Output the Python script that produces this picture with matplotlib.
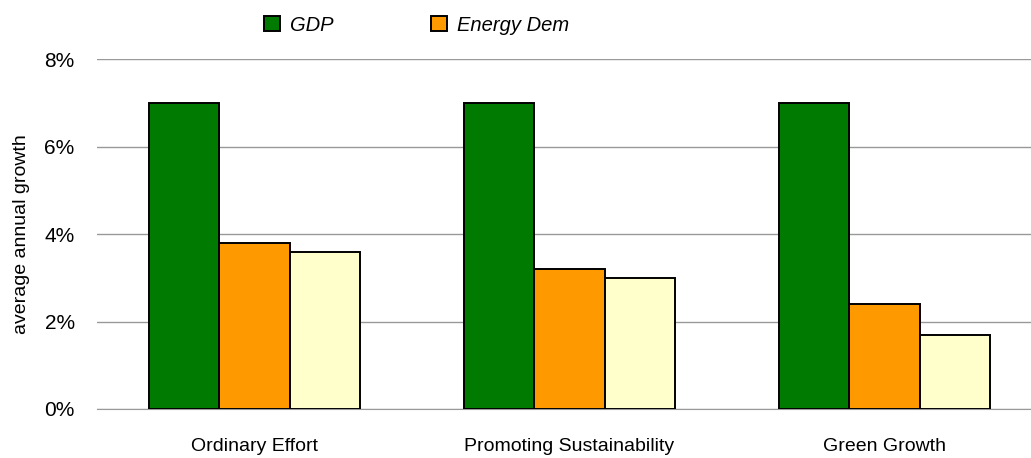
import numpy as np
import matplotlib.pyplot as plt
from matplotlib.ticker import PercentFormatter

plt.rcParams['font.family'] = ['Liberation Sans Narrow', 'Liberation Sans', 'DejaVu Sans']

scenarios = ['Ordinary Effort', 'Promoting Sustainability', 'Green Growth']
gdp = [7.0, 7.0, 7.0]
energy_dem = [3.8, 3.2, 2.4]
third = [3.6, 3.0, 1.7]

x = np.arange(len(scenarios))
w = 0.224

fig = plt.figure(figsize=(10.31, 4.58), dpi=100)
ax = fig.add_axes([0.094, 0.107, 0.906, 0.764])

ax.bar(x - w, gdp, w, color='#007a00', edgecolor='black', linewidth=1.4, label='GDP', zorder=3)
ax.bar(x, energy_dem, w, color='#ff9900', edgecolor='black', linewidth=1.4, label='Energy Dem', zorder=3)
ax.bar(x + w, third, w, color='#ffffcc', edgecolor='black', linewidth=1.4, zorder=3)

ax.set_xlim(-0.5, 2.465)
ax.set_ylim(0, 8)
ax.set_yticks([0, 2, 4, 6, 8])
ax.yaxis.set_major_formatter(PercentFormatter(decimals=0))
ax.grid(axis='y', color='#999999', linewidth=1, zorder=0)
for s in ['top', 'right', 'left']:
    ax.spines[s].set_visible(False)
ax.spines['bottom'].set_color('#999999')
ax.tick_params(axis='y', length=0, pad=16, labelsize=15)
ax.tick_params(axis='x', length=0, pad=21, labelsize=14)
ax.set_xticks(x)
ax.set_xticklabels(scenarios)
ax.set_ylabel('average annual growth', fontsize=14, labelpad=10)

fig.legend(loc='center', bbox_to_anchor=(0.404, 0.945), ncol=2, frameon=False,
           prop={'style': 'italic', 'size': 14.5}, columnspacing=4.8, handlelength=0.8,
           handleheight=0.8, handletextpad=0.5)

fig.savefig('out.png', dpi=100)
